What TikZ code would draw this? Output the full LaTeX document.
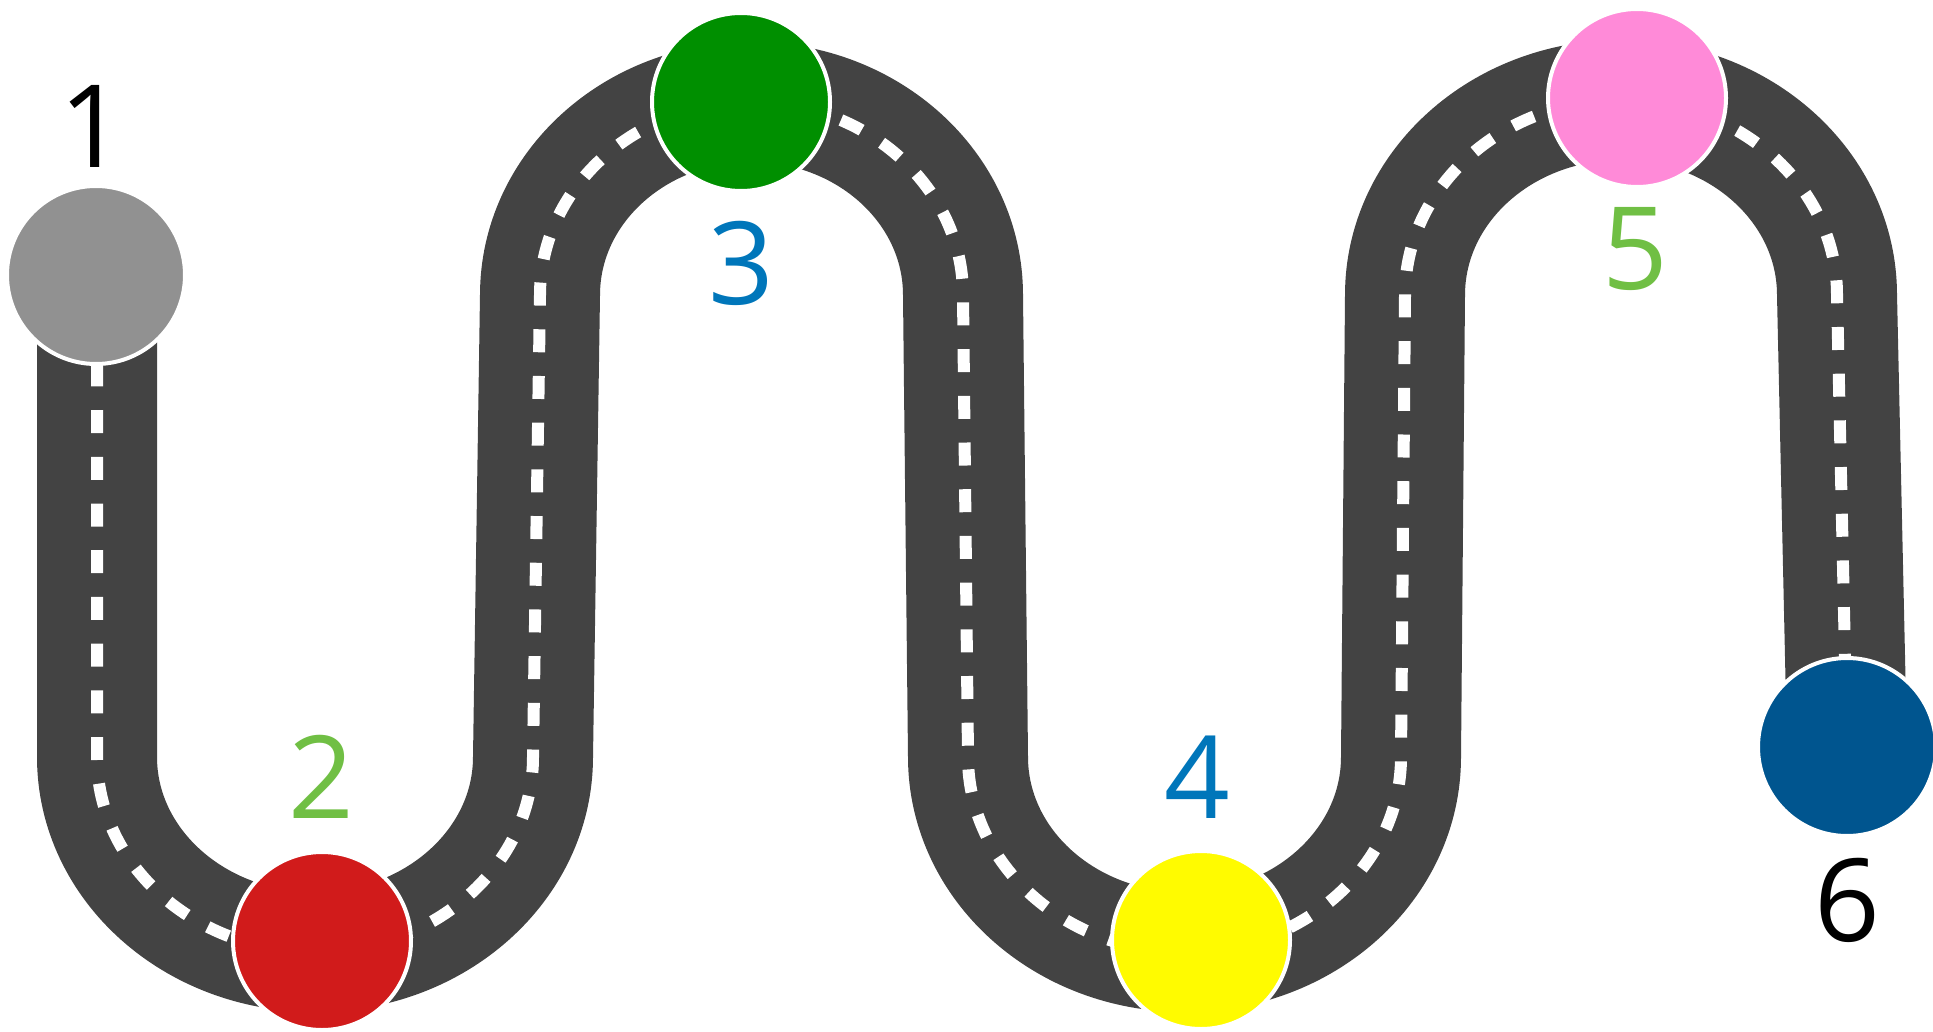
\documentclass[tikz,border=0pt]{standalone}
\usepackage{fontspec}
\setmainfont{Open Sans}
\usetikzlibrary{positioning}
\definecolor{asphalt}{HTML}{434343}
\definecolor{stone}{HTML}{919191}
\definecolor{ruby}{HTML}{D11B1B}
\definecolor{forest}{HTML}{008F00}
\definecolor{lemon}{HTML}{FFFB00}
\definecolor{rose}{HTML}{FF8AD8}
\definecolor{ocean}{HTML}{00558F}
\definecolor{lime}{HTML}{70BF44}
\definecolor{sky}{HTML}{0076BA}

% centre line of the winding road
\newcommand\roadline{(97,-275) -- (97,-757)
  arc[start angle=180,end angle=360,x radius=109pt,y radius=97.5pt] -- (540,-295)
  arc[start angle=180,end angle=0,x radius=105.75pt,y radius=96.5pt] -- (968,-757)
  arc[start angle=180,end angle=360,x radius=108.25pt,y radius=97.5pt] -- (1405,-295)
  arc[start angle=180,end angle=0,x radius=108pt,y radius=97.5pt] -- (1847,-747)}

\begin{document}
\begin{tikzpicture}[x=0.5pt,y=0.5pt,
    road/.style={draw=asphalt,line width=60pt},
    lane/.style={draw=white,line width=6pt,dash pattern=on 11.5pt off 11.85pt,dash phase=2.5pt},
    stop/.style={circle,draw=white,line width=2pt,minimum size=89pt,inner sep=0pt},
    num/.style={inner sep=0pt,font=\fontsize{57.5}{60}\selectfont}]
  \useasboundingbox (0,0) rectangle (1933,-1032);
  \draw[road] \roadline;
  \draw[lane] \roadline;
  % stops along the road
  \node[stop,fill=stone]  (c1) at (96,-275) {};
  \node[stop,fill=ruby]   (c2) at (322,-941) {};
  \node[stop,fill=forest] (c3) at (741,-102) {};
  \node[stop,fill=lemon]  (c4) at (1201,-940) {};
  \node[stop,fill=rose]   (c5) at (1637,-98) {};
  \node[stop,fill=ocean]  (c6) at (1847,-747) {};
  % numbers
  \node[num]            (n1) at (92,-126) {1};
  \node[num,text=lime]  (n2) at (321,-777) {2};
  \node[num,text=sky]   (n3) at (741,-263) {3};
  \node[num,text=sky]   (n4) at (1197,-777) {4};
  \node[num,text=lime]  (n5) at (1635,-249) {5};
  \node[num]            (n6) at (1847,-900) {6};
\end{tikzpicture}
\end{document}
